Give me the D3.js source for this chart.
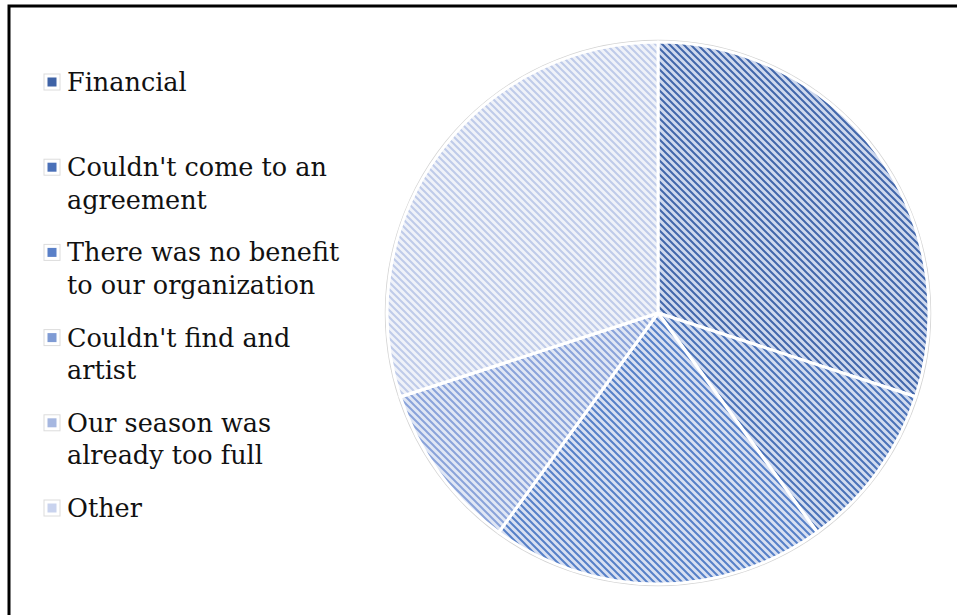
<!DOCTYPE html>
<html>
<head>
<meta charset="utf-8">
<script src="https://cdn.jsdelivr.net/npm/d3@7"></script>
<style>
  body { margin: 0; background: #fff; }
</style>
</head>
<body>
<div id="chart"></div>
<script>
// reasons (legend order) and their counts
const categories = ["Financial", "Couldn't come to an agreement", "There was no benefit to our organization",
                    "Couldn't find and artist", "Our season was already too full", "Other"];
const legendLines = [["Financial"], ["Couldn't come to an", "agreement"], ["There was no benefit", "to our organization"],
                     ["Couldn't find and", "artist"], ["Our season was", "already too full"], ["Other"]];
const values = [9, 3, 6, 3, 0, 9];

const stripeColors = ["#4267ab", "#4a72b8", "#5680c8", "#8aa3da", "#a6b8e2", "#bfcbe9"];
const backColors   = ["#cfd9ee", "#d2dcf0", "#d8e0f2", "#e0e7f5", "#e6ebf7", "#eff2f9"];
const keyColors    = ["#3f63a6", "#4a70b8", "#5a80c8", "#7f9bd4", "#a6b7e0", "#c9d3ee"];

const width = 957, height = 615;
const cx = 658, cy = 313, radius = 271;

const svg = d3.select("#chart").append("svg")
    .attr("width", width)
    .attr("height", height);

const defs = svg.append("defs");
categories.forEach(function(c, i) {
  const p = defs.append("pattern")
      .attr("id", "hatch" + i)
      .attr("patternUnits", "userSpaceOnUse")
      .attr("width", 7)
      .attr("height", 7);
  p.append("rect").attr("width", 7).attr("height", 7).attr("fill", backColors[i]);
  p.append("path")
      .attr("d", "M-1,-1 L8,8 M-1,6 L1,8 M6,-1 L8,1")
      .attr("stroke", stripeColors[i])
      .attr("stroke-width", 2);
});

// frame (only top and left edges show)
svg.append("rect")
    .attr("x", 9).attr("y", 6)
    .attr("width", width + 20).attr("height", height + 20)
    .attr("fill", "none")
    .attr("stroke", "#000")
    .attr("stroke-width", 3);

const pie = d3.pie().sort(null).value(function(d) { return d; });
const arc = d3.arc().innerRadius(0).outerRadius(radius);

const g = svg.append("g").attr("transform", "translate(" + cx + "," + cy + ")");

// soft outer shadow ring
g.append("circle")
    .attr("r", radius + 1.5)
    .attr("fill", "none")
    .attr("stroke", "#d4d4d4")
    .attr("stroke-width", 1.5);

g.selectAll("path.slice")
    .data(pie(values))
    .enter().append("path")
    .attr("class", "slice")
    .attr("d", arc)
    .attr("fill", function(d, i) { return "url(#hatch" + i + ")"; })
    .attr("stroke", "#fff")
    .attr("stroke-width", 3)
    .attr("stroke-linejoin", "round");

// legend
const legend = svg.append("g")
    .attr("font-family", "'DejaVu Serif', serif")
    .attr("font-size", 25.5)
    .attr("fill", "#111");

const entry = legend.selectAll("g")
    .data(categories)
    .enter().append("g")
    .attr("transform", function(d, i) { return "translate(0," + (91 + i * 85.2) + ")"; });

entry.append("rect")
    .attr("x", 44).attr("y", -17)
    .attr("width", 16).attr("height", 16)
    .attr("fill", "#fff")
    .attr("stroke", "#dcdcdc")
    .attr("stroke-width", 1);

entry.append("rect")
    .attr("x", 47.5).attr("y", -13.5)
    .attr("width", 9).attr("height", 9)
    .attr("fill", function(d, i) { return keyColors[i]; });

entry.append("text")
    .selectAll("tspan")
    .data(function(d, i) { return legendLines[i]; })
    .enter().append("tspan")
    .attr("x", 67)
    .attr("y", function(d, j) { return j * 32.5; })
    .text(function(d) { return d; });
</script>
</body>
</html>
